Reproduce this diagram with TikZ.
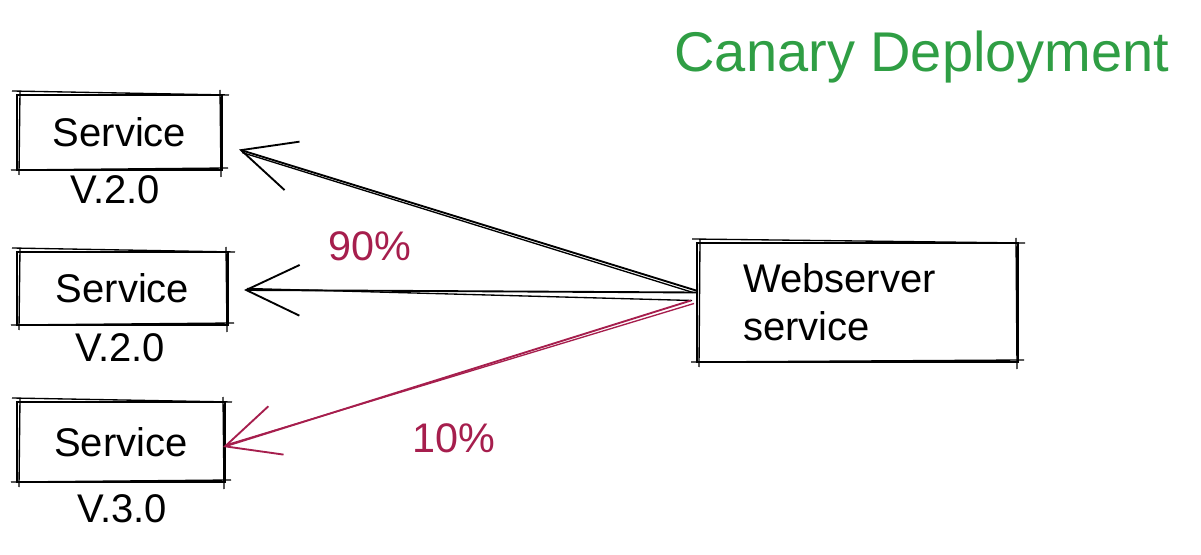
\documentclass[tikz,border=0pt]{standalone}
\usepackage{fontspec}
\setmainfont{Liberation Sans}
\usetikzlibrary{arrows.meta}
\definecolor{canary}{HTML}{2F9E44}
\definecolor{pct}{HTML}{A61E4D}
\newcommand\skbox[1]{%
 \draw[sk] ([shift={(-4,-3)}]#1.north west) -- ([shift={(6,1)}]#1.north east);
 \draw[sk] ([shift={(-3,-4)}]#1.north east) -- ([shift={(-2,6)}]#1.south east);
 \draw[sk] ([shift={(5,-3)}]#1.south east) -- ([shift={(-5,-1)}]#1.south west);
 \draw[sk] ([shift={(3,4)}]#1.south west) -- ([shift={(4,-3)}]#1.north west);
}
\begin{document}
\begin{tikzpicture}[x=0.75pt,y=-0.75pt,
 svcbox/.style={draw, line width=1.5pt, inner sep=0pt, font=\fontsize{30}{36}\selectfont},
 ver/.style={font=\fontsize{30}{36}\selectfont},
 arr/.style={line width=1.4pt, -{Straight Barb[length=40pt,width=38pt,line width=1.4pt]}},
 sk/.style={line width=1pt},
 pctlab/.style={text=pct, font=\fontsize{31}{36}\selectfont}]
\useasboundingbox (0,0) rectangle (1201,555);

\node[text=canary, font=\fontsize{42}{48}\selectfont, anchor=base] (title) at (922,72) {Canary Deployment};

\node[svcbox, minimum width=153.75pt, minimum height=56.25pt] (s1) at (119.5,132.5) {Service};
\node[ver, anchor=base] (v1) at (115,204) {V.2.0};
\node[svcbox, minimum width=158.25pt, minimum height=54.75pt] (s2) at (122.5,288.5) {Service};
\node[ver, anchor=base] (v2) at (120,362) {V.2.0};
\node[svcbox, minimum width=156pt, minimum height=60pt] (s3) at (121,442) {Service};
\node[ver, anchor=base] (v3) at (122,522) {V.3.0};

\node[draw, line width=1.5pt, minimum width=240.75pt, minimum height=89.25pt,
      inner xsep=34.5pt, text width=171.75pt, align=left,
      font=\fontsize{30}{36}\selectfont] (web) at (857.5,302.5) {Webserver\\service};

\skbox{s1}
\skbox{s2}
\skbox{s3}
\skbox{web}

\draw[arr] ([shift={(0,-12)}]web.west) -- ([shift={(16,17)}]s1.east);
\draw[sk] ([shift={(-3,-10)}]web.west) -- ([shift={(19,20)}]s1.east);
\draw[arr] ([shift={(0,-10)}]web.west) -- ([shift={(15,1.5)}]s2.east);
\draw[sk] ([shift={(-4,-2)}]web.west) -- ([shift={(18,0)}]s2.east);
\draw[arr, pct] ([shift={(-5,-2)}]web.west) -- ([shift={(-3,5)}]s3.east);
\draw[sk, pct] ([shift={(-2,1)}]web.west) -- ([shift={(0,3)}]s3.east);

\node[pctlab] (p90) at (370,246) {90\%};
\node[pctlab] (p10) at (454,438) {10\%};
\end{tikzpicture}
\end{document}
